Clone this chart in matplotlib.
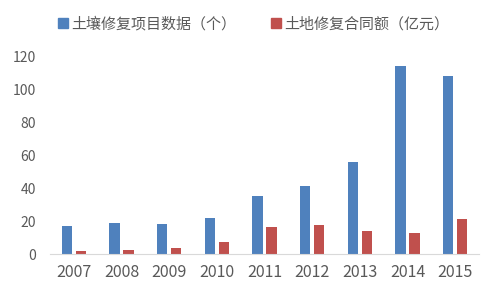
import numpy as np
import matplotlib
matplotlib.use('Agg')
import matplotlib.pyplot as plt
from matplotlib.patches import Patch

plt.rcParams['font.family'] = ['Noto Sans CJK SC', 'DejaVu Sans']

years = ['2007', '2008', '2009', '2010', '2011', '2012', '2013', '2014', '2015']
projects = [17, 19, 18, 22, 35, 41, 56, 114, 108]          # 土壤修复项目数据（个）
contracts = [2, 2.2, 3.8, 7.5, 16.2, 17.8, 14, 12.6, 21.2]   # 土地修复合同额（亿元）
labels = ['土壤修复项目数据（个）', '土地修复合同额（亿元）']

blue = '#4F81BD'
red = '#C0504D'
grey = '#595959'

fig = plt.figure(figsize=(5, 2.99), dpi=100)
ax = fig.add_axes([0.1, 0.1505, 0.858, 0.662])

x = np.arange(len(years))
w = 0.22
ax.bar(x - 0.145, projects, w, color=blue)
ax.bar(x + 0.145, contracts, w, color=red)

ax.set_xlim(-0.5, len(years) - 0.5)
ax.set_ylim(0, 120)
ax.set_yticks(range(0, 121, 20))
ax.set_xticks(x)
ax.set_xticklabels(years)
ax.tick_params(axis='x', length=0, labelsize=11.5, colors=grey, pad=7)
ax.tick_params(axis='y', length=0, labelsize=10, colors=grey, pad=10)

for s in ['top', 'right', 'left']:
    ax.spines[s].set_visible(False)
ax.spines['bottom'].set_color('#D9D9D9')

handles = [Patch(color=blue), Patch(color=red)]
fig.legend(handles, labels, loc='center', bbox_to_anchor=(0.507, 0.92), ncol=2,
           frameon=False, fontsize=10.8, handlelength=0.65, handleheight=0.65,
           handletextpad=0.25, columnspacing=2.3, labelcolor=grey)

fig.savefig('out.png', dpi=100)
